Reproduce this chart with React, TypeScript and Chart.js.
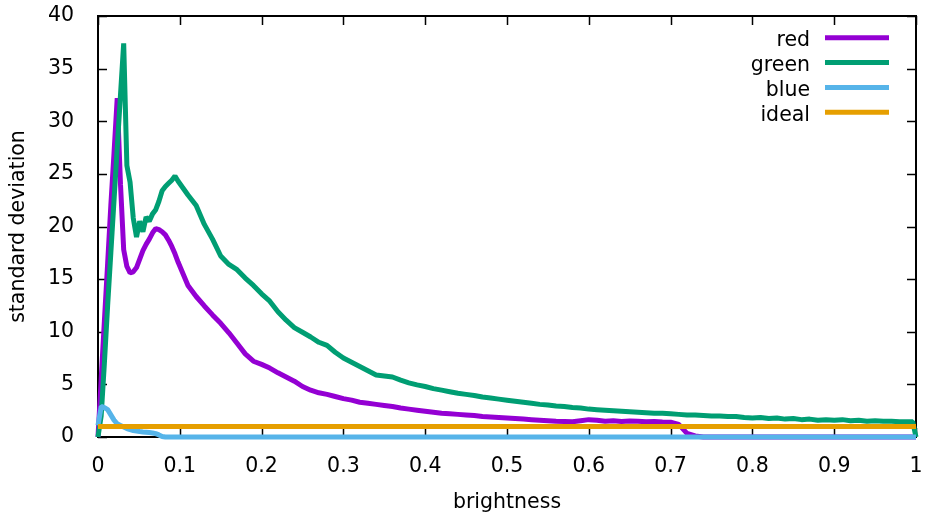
import React, { useEffect, useRef } from "react";
import { Chart, registerables } from "chart.js";

Chart.register(...registerables);

const FONT_FAMILY = "'DejaVu Sans', 'Liberation Sans', sans-serif";
const FONT_SIZE = 20.5;

// brightness samples (fine steps of 1/255 at the dark end, then 0.01)
const brightness = [
  0, 0.0039, 0.0078, 0.0118, 0.0157, 0.0196, 0.0235, 0.0275, 0.0314, 0.0353,
  0.0392, 0.0431, 0.0471, 0.051, 0.0549, 0.0588, 0.0627, 0.0667, 0.0706, 0.0745,
  0.0784, 0.0824, 0.0863, 0.0902, 0.0941, 0.098,
  0.11, 0.12, 0.13, 0.14, 0.15, 0.16, 0.17, 0.18, 0.19, 0.2,
  0.21, 0.22, 0.23, 0.24, 0.25, 0.26, 0.27, 0.28, 0.29, 0.3,
  0.31, 0.32, 0.33, 0.34, 0.35, 0.36, 0.37, 0.38, 0.39, 0.4,
  0.41, 0.42, 0.43, 0.44, 0.45, 0.46, 0.47, 0.48, 0.49, 0.5,
  0.51, 0.52, 0.53, 0.54, 0.55, 0.56, 0.57, 0.58, 0.59, 0.6,
  0.61, 0.62, 0.63, 0.64, 0.65, 0.66, 0.67, 0.68, 0.69, 0.7,
  0.71, 0.72, 0.73, 0.74, 0.75, 0.76, 0.77, 0.78, 0.79, 0.8,
  0.81, 0.82, 0.83, 0.84, 0.85, 0.86, 0.87, 0.88, 0.89, 0.9,
  0.91, 0.92, 0.93, 0.94, 0.95, 0.96, 0.97, 0.98, 0.99,
  0.996, 1,
];

const redValues = [
  0, 5.5, 11, 16.5, 22, 27, 32.2, 24, 17.8, 16.2,
  15.6, 15.7, 16.1, 16.9, 17.7, 18.3, 18.8, 19.4, 19.8, 19.7,
  19.5, 19.2, 18.7, 18.1, 17.4, 16.6,
  14.4, 13.35, 12.45, 11.6, 10.8, 9.9, 8.9, 7.9, 7.2, 6.9,
  6.55, 6.1, 5.7, 5.3, 4.8, 4.45, 4.2, 4.05, 3.85, 3.65,
  3.5, 3.3, 3.2, 3.1, 3.0, 2.9, 2.75, 2.65, 2.55, 2.45,
  2.35, 2.25, 2.2, 2.15, 2.1, 2.05, 1.95, 1.9, 1.85, 1.8,
  1.75, 1.7, 1.65, 1.6, 1.55, 1.5, 1.48, 1.45, 1.55, 1.65,
  1.6, 1.5, 1.55, 1.48, 1.52, 1.5, 1.45, 1.48, 1.42, 1.4,
  1.2, 0.35, 0.1, 0, 0, 0, 0, 0, 0, 0,
  0, 0, 0, 0, 0, 0, 0, 0, 0, 0,
  0, 0, 0, 0, 0, 0, 0, 0, 0,
  0, 0,
];

const greenValues = [
  0, 2, 7, 12.5, 17.5, 22.5, 27.5, 32.5, 37.4, 25.8,
  24.2, 20.8, 19.0, 20.5, 19.5, 20.9, 20.5, 21.2, 21.6, 22.4,
  23.4, 23.8, 24.1, 24.4, 24.8, 24.3,
  23.0, 22.0, 20.2, 18.8, 17.2, 16.4, 15.9, 15.1, 14.4, 13.6,
  12.9, 11.9, 11.1, 10.4, 9.95, 9.5, 9.0, 8.7, 8.05, 7.5,
  7.1, 6.7, 6.3, 5.9, 5.8, 5.7, 5.4, 5.15, 4.95, 4.8,
  4.6, 4.45, 4.3, 4.15, 4.05, 3.95, 3.8, 3.7, 3.6, 3.5,
  3.4, 3.3, 3.2, 3.1, 3.05, 2.95, 2.9, 2.8, 2.75, 2.65,
  2.6, 2.55, 2.5, 2.45, 2.4, 2.35, 2.3, 2.25, 2.25, 2.2,
  2.15, 2.1, 2.1, 2.05, 2.0, 2.0, 1.95, 1.95, 1.85, 1.8,
  1.85, 1.75, 1.8, 1.7, 1.75, 1.65, 1.7, 1.6, 1.65, 1.6,
  1.65, 1.55, 1.6, 1.5, 1.55, 1.5, 1.5, 1.45, 1.45,
  1.45, 0,
];

const blueValues = [
  1.1, 2.9, 2.8, 2.6, 2.1, 1.6, 1.25, 1.1, 0.95, 0.8,
  0.7, 0.62, 0.57, 0.52, 0.48, 0.45, 0.42, 0.38, 0.32, 0.2,
  0.05, 0, 0, 0, 0, 0,
  0, 0, 0, 0, 0, 0, 0, 0, 0, 0,
  0, 0, 0, 0, 0, 0, 0, 0, 0, 0,
  0, 0, 0, 0, 0, 0, 0, 0, 0, 0,
  0, 0, 0, 0, 0, 0, 0, 0, 0, 0,
  0, 0, 0, 0, 0, 0, 0, 0, 0, 0,
  0, 0, 0, 0, 0, 0, 0, 0, 0, 0,
  0, 0, 0, 0, 0, 0, 0, 0, 0, 0,
  0, 0, 0, 0, 0, 0, 0, 0, 0, 0,
  0, 0, 0, 0, 0, 0, 0, 0, 0,
  0, 0,
];

const idealBrightness = [0, 1];
const idealValues = [1, 1];

const seriesLabels = ["red", "green", "blue", "ideal"];
const seriesColors = ["#9400D3", "#009E73", "#56B4E9", "#E69F00"];

const xTickLabels = ["0", "0.1", "0.2", "0.3", "0.4", "0.5", "0.6", "0.7", "0.8", "0.9", "1"];
const yTickLabels = ["0", "5", "10", "15", "20", "25", "30", "35", "40"];

const xTitle = "brightness";
const yTitle = "standard deviation";

const toPoints = (xs: number[], ys: number[]) => xs.map((x, i) => ({ x, y: ys[i] }));

const framePlugin = {
  id: "gnuplotFrame",
  beforeDatasetsDraw(chart: any) {
    const { ctx, chartArea, scales } = chart;
    const { left, right, top, bottom } = chartArea;
    const L = 9;
    ctx.save();
    ctx.strokeStyle = "#000";
    ctx.lineWidth = 1.5;
    ctx.beginPath();
    scales.x.ticks.forEach((t: any) => {
      const px = Math.round(scales.x.getPixelForValue(t.value)) + 0.5;
      ctx.moveTo(px, bottom);
      ctx.lineTo(px, bottom - L);
      ctx.moveTo(px, top);
      ctx.lineTo(px, top + L);
    });
    scales.y.ticks.forEach((t: any) => {
      const py = Math.round(scales.y.getPixelForValue(t.value)) + 0.5;
      ctx.moveTo(left, py);
      ctx.lineTo(left + L, py);
      ctx.moveTo(right, py);
      ctx.lineTo(right - L, py);
    });
    ctx.stroke();
    ctx.lineWidth = 2;
    ctx.strokeRect(left, top, right - left, bottom - top);
    ctx.restore();
  },
};

const legendPlugin = {
  id: "gnuplotLegend",
  afterDatasetsDraw(chart: any) {
    const { ctx } = chart;
    const textRight = 810;
    const x1 = 825;
    const x2 = 889;
    const y0 = 37.7;
    const dy = 24.87;
    ctx.save();
    ctx.font = `${FONT_SIZE}px ${FONT_FAMILY}`;
    ctx.textAlign = "right";
    ctx.textBaseline = "alphabetic";
    chart.data.datasets.forEach((ds: any, i: number) => {
      const y = y0 + i * dy;
      ctx.fillStyle = "#000";
      ctx.fillText(ds.label, textRight, y + 8.6);
      ctx.strokeStyle = ds.borderColor;
      ctx.lineWidth = 5;
      ctx.lineCap = "butt";
      ctx.beginPath();
      ctx.moveTo(x1, y);
      ctx.lineTo(x2, y);
      ctx.stroke();
    });
    ctx.restore();
  },
};

export default function App() {
  const canvasRef = useRef<HTMLCanvasElement | null>(null);

  useEffect(() => {
    if (!canvasRef.current) return;
    const font = { family: FONT_FAMILY, size: FONT_SIZE };
    const lineDs = (label: string, color: string, data: any[], order: number) => ({
      label,
      data,
      borderColor: color,
      backgroundColor: color,
      borderWidth: 5,
      pointRadius: 0,
      tension: 0,
      borderJoinStyle: "bevel" as const,
      order,
      clip: 10,
    });
    const chart = new Chart(canvasRef.current, {
      type: "line",
      data: {
        datasets: [
          lineDs(seriesLabels[0], seriesColors[0], toPoints(brightness, redValues), 3),
          lineDs(seriesLabels[1], seriesColors[1], toPoints(brightness, greenValues), 2),
          lineDs(seriesLabels[2], seriesColors[2], toPoints(brightness, blueValues), 1),
          lineDs(seriesLabels[3], seriesColors[3], toPoints(idealBrightness, idealValues), 0),
        ],
      },
      options: {
        animation: false,
        responsive: false,
        devicePixelRatio: 1,
        parsing: false as any,
        normalized: true,
        layout: { padding: { top: 16, right: 11, bottom: 0, left: 0 } },
        plugins: {
          legend: { display: false },
          tooltip: { enabled: false },
        },
        scales: {
          x: {
            type: "linear",
            min: 0,
            max: 1,
            grid: { display: false },
            border: { display: false },
            ticks: {
              stepSize: 0.1,
              autoSkip: false,
              maxRotation: 0,
              color: "#000",
              font,
              padding: 9,
              callback: (_v: any, i: number) => xTickLabels[i],
            },
            title: {
              display: true,
              text: xTitle,
              color: "#000",
              font,
              padding: { top: 0, bottom: -2 },
            },
            afterFit: (s: any) => {
              s.height = 76;
              s.paddingLeft = 0;
              s.paddingRight = 0;
            },
          },
          y: {
            type: "linear",
            min: 0,
            max: 40,
            grid: { display: false },
            border: { display: false },
            ticks: {
              stepSize: 5,
              color: "#000",
              font,
              padding: 16,
              callback: (_v: any, i: number) => yTickLabels[i],
            },
            title: {
              display: true,
              text: yTitle,
              color: "#000",
              font,
              padding: { top: 6.5, bottom: 0 },
            },
            afterFit: (s: any) => {
              s.width = 98;
              s.paddingTop = 0;
              s.paddingBottom = 0;
            },
          },
        },
      },
      plugins: [framePlugin, legendPlugin],
    });
    return () => chart.destroy();
  }, []);

  return (
    <div style={{ position: "fixed", left: 0, top: 0, width: 927, height: 513, background: "#fff" }}>
      <canvas ref={canvasRef} width={927} height={513} style={{ display: "block" }} />
    </div>
  );
}
